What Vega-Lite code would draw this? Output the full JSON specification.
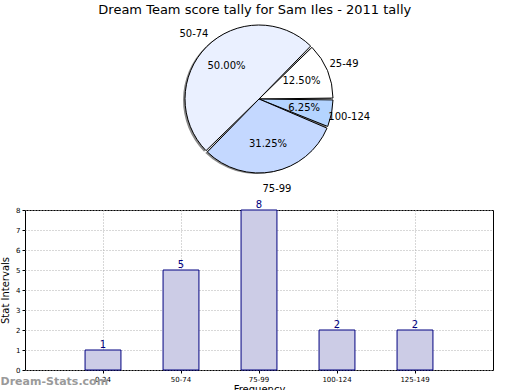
{
  "$schema": "https://vega.github.io/schema/vega-lite/v6.json",
  "padding": {"top": 4, "left": 0, "right": 0, "bottom": 0},
  "background": "white",
  "config": {
    "font": "DejaVu Sans",
    "view": {"stroke": null}
  },
  "title": {
    "text": "Dream Team score tally for Sam Iles - 2011 tally",
    "fontSize": 13,
    "fontWeight": "normal",
    "color": "black",
    "anchor": "middle",
    "dx": 8,
    "offset": 4
  },
  "spacing": 4,
  "vconcat": [
    {
      "width": 468,
      "height": 156,
      "data": {
        "values": [
          {"cat": "25-49", "value": 2, "pct": "12.50%", "order": 1},
          {"cat": "100-124", "value": 1, "pct": "6.25%", "order": 2},
          {"cat": "75-99", "value": 5, "pct": "31.25%", "order": 3},
          {"cat": "50-74", "value": 8, "pct": "50.00%", "order": 4}
        ]
      },
      "encoding": {
        "theta": {"field": "value", "type": "quantitative", "stack": true, "scale": {"range": [0.7854, 7.0686]}},
        "order": {"field": "order", "type": "quantitative"}
      },
      "layer": [
        {
          "mark": {"type": "arc", "outerRadius": 74, "padAngle": 0.025, "fill": "#8a8a8a", "xOffset": -2, "yOffset": 1}
        },
        {
          "mark": {"type": "arc", "outerRadius": 74, "padAngle": 0.025, "stroke": "black", "strokeWidth": 1},
          "encoding": {
            "color": {
              "field": "cat", "type": "nominal", "legend": null,
              "scale": {"domain": ["25-49", "50-74", "75-99", "100-124"], "range": ["#ffffff", "#eaf0ff", "#c4d8ff", "#b4d4ff"]}
            }
          }
        },
        {
          "mark": {"type": "text", "radius": 46, "fontSize": 10, "color": "black"},
          "encoding": {"text": {"field": "pct"}}
        },
        {
          "mark": {"type": "text", "radius": 92, "fontSize": 10, "color": "black"},
          "encoding": {"text": {"field": "cat"}}
        }
      ]
    },
    {
      "width": 468,
      "height": 160,
      "view": {"stroke": "black", "strokeWidth": 1},
      "title": {
        "text": "Dream-Stats.com",
        "orient": "bottom",
        "anchor": "start",
        "frame": "bounds",
        "fontSize": 11,
        "fontWeight": "bold",
        "color": "#9a9a9a",
        "offset": -18
      },
      "data": {
        "values": [
          {"cat": "0-24", "count": 1},
          {"cat": "50-74", "count": 5},
          {"cat": "75-99", "count": 8},
          {"cat": "100-124", "count": 2},
          {"cat": "125-149", "count": 2}
        ]
      },
      "encoding": {
        "x": {
          "field": "cat", "type": "ordinal", "sort": null,
          "scale": {"paddingInner": 0, "paddingOuter": 0.5},
          "axis": {
            "title": "Frequency", "titleFontSize": 10, "titleFontWeight": "normal", "titleColor": "black", "titlePadding": 2,
            "labelAngle": 0, "labelFontSize": 7, "labelColor": "black", "labelPadding": 2,
            "tickSize": 3, "tickColor": "black", "domain": false,
            "grid": true, "gridDash": [1, 2], "gridColor": "#b0b0b0"
          }
        },
        "y": {
          "field": "count", "type": "quantitative",
          "scale": {"domain": [0, 8], "nice": false},
          "axis": {
            "title": "Stat Intervals", "titleFontSize": 10, "titleFontWeight": "normal", "titleColor": "black", "titlePadding": 5,
            "values": [0, 1, 2, 3, 4, 5, 6, 7, 8],
            "labelFontSize": 7, "labelColor": "black", "labelPadding": 2,
            "tickSize": 3, "tickColor": "black", "domain": false,
            "grid": true, "gridDash": [1, 2], "gridColor": "#b0b0b0"
          }
        }
      },
      "layer": [
        {
          "mark": {"type": "bar", "width": {"band": 0.46}, "fill": "#cccce6", "stroke": "#000080", "strokeWidth": 1}
        },
        {
          "mark": {"type": "text", "dy": -5, "fontSize": 10, "color": "#000080"},
          "encoding": {"text": {"field": "count", "type": "quantitative"}}
        }
      ]
    }
  ]
}
